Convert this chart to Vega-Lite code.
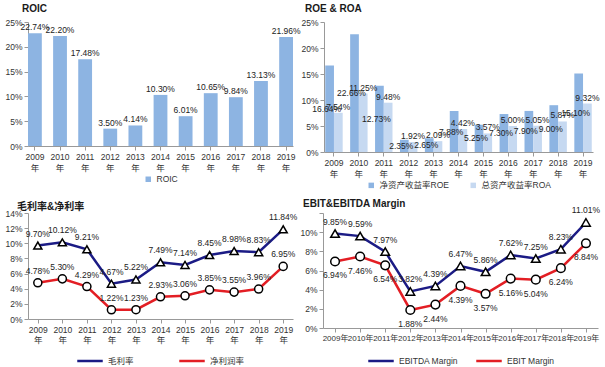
{
  "$schema": "https://vega.github.io/schema/vega-lite/v6.json",
  "background": "white",
  "padding": {"left": 4, "top": 4, "right": 0, "bottom": 0},
  "config": {
    "font": "Liberation Sans, Noto Sans CJK SC",
    "view": {"stroke": null},
    "axis": {"grid": false, "domainColor": "#999999", "tickColor": "#999999", "labelColor": "#333333", "labelFontSize": 8.5, "title": null, "tickSize": 4, "labelPadding": 2},
    "legend": {"orient": "bottom", "direction": "horizontal", "labelFontSize": 8.5, "labelColor": "#333333", "title": null, "padding": 0, "offset": 3, "layout": {"bottom": {"anchor": "middle"}}},
    "title": {"anchor": "start", "fontSize": 10, "fontWeight": "bold", "color": "#1a1a1a", "font": "Liberation Sans, Noto Sans CJK SC"},
    "text": {"fontSize": 8.5, "color": "#222222"}
  },
  "datasets": {
    "roic": [
      {"year": "2009", "v": 0.2274}, {"year": "2010", "v": 0.2220}, {"year": "2011", "v": 0.1748},
      {"year": "2012", "v": 0.0350}, {"year": "2013", "v": 0.0414}, {"year": "2014", "v": 0.1030},
      {"year": "2015", "v": 0.0601}, {"year": "2016", "v": 0.1065}, {"year": "2017", "v": 0.0984},
      {"year": "2018", "v": 0.1313}, {"year": "2019", "v": 0.2196}
    ],
    "roe": [
      {"year": "2009", "series": "净资产收益率ROE", "v": 0.1664}, {"year": "2009", "series": "总资产收益率ROA", "v": 0.0754},
      {"year": "2010", "series": "净资产收益率ROE", "v": 0.2266}, {"year": "2010", "series": "总资产收益率ROA", "v": 0.1125},
      {"year": "2011", "series": "净资产收益率ROE", "v": 0.1273}, {"year": "2011", "series": "总资产收益率ROA", "v": 0.0948},
      {"year": "2012", "series": "净资产收益率ROE", "v": 0.0235}, {"year": "2012", "series": "总资产收益率ROA", "v": 0.0192},
      {"year": "2013", "series": "净资产收益率ROE", "v": 0.0265}, {"year": "2013", "series": "总资产收益率ROA", "v": 0.0209},
      {"year": "2014", "series": "净资产收益率ROE", "v": 0.0788}, {"year": "2014", "series": "总资产收益率ROA", "v": 0.0442},
      {"year": "2015", "series": "净资产收益率ROE", "v": 0.0525}, {"year": "2015", "series": "总资产收益率ROA", "v": 0.0357},
      {"year": "2016", "series": "净资产收益率ROE", "v": 0.0730}, {"year": "2016", "series": "总资产收益率ROA", "v": 0.0500},
      {"year": "2017", "series": "净资产收益率ROE", "v": 0.0790}, {"year": "2017", "series": "总资产收益率ROA", "v": 0.0505},
      {"year": "2018", "series": "净资产收益率ROE", "v": 0.0900}, {"year": "2018", "series": "总资产收益率ROA", "v": 0.0587},
      {"year": "2019", "series": "净资产收益率ROE", "v": 0.1510}, {"year": "2019", "series": "总资产收益率ROA", "v": 0.0932}
    ],
    "margin": [
      {"year": "2009", "series": "毛利率", "v": 0.0970}, {"year": "2009", "series": "净利润率", "v": 0.0478},
      {"year": "2010", "series": "毛利率", "v": 0.1012}, {"year": "2010", "series": "净利润率", "v": 0.0530},
      {"year": "2011", "series": "毛利率", "v": 0.0921}, {"year": "2011", "series": "净利润率", "v": 0.0429},
      {"year": "2012", "series": "毛利率", "v": 0.0467}, {"year": "2012", "series": "净利润率", "v": 0.0122},
      {"year": "2013", "series": "毛利率", "v": 0.0522}, {"year": "2013", "series": "净利润率", "v": 0.0123},
      {"year": "2014", "series": "毛利率", "v": 0.0749}, {"year": "2014", "series": "净利润率", "v": 0.0293},
      {"year": "2015", "series": "毛利率", "v": 0.0714}, {"year": "2015", "series": "净利润率", "v": 0.0306},
      {"year": "2016", "series": "毛利率", "v": 0.0845}, {"year": "2016", "series": "净利润率", "v": 0.0385},
      {"year": "2017", "series": "毛利率", "v": 0.0898}, {"year": "2017", "series": "净利润率", "v": 0.0355},
      {"year": "2018", "series": "毛利率", "v": 0.0883}, {"year": "2018", "series": "净利润率", "v": 0.0396},
      {"year": "2019", "series": "毛利率", "v": 0.1184}, {"year": "2019", "series": "净利润率", "v": 0.0695}
    ],
    "ebit": [
      {"year": "2009", "series": "EBITDA Margin", "v": 0.0985}, {"year": "2009", "series": "EBIT Margin", "v": 0.0694},
      {"year": "2010", "series": "EBITDA Margin", "v": 0.0959}, {"year": "2010", "series": "EBIT Margin", "v": 0.0746},
      {"year": "2011", "series": "EBITDA Margin", "v": 0.0797}, {"year": "2011", "series": "EBIT Margin", "v": 0.0654},
      {"year": "2012", "series": "EBITDA Margin", "v": 0.0382}, {"year": "2012", "series": "EBIT Margin", "v": 0.0188},
      {"year": "2013", "series": "EBITDA Margin", "v": 0.0439}, {"year": "2013", "series": "EBIT Margin", "v": 0.0244},
      {"year": "2014", "series": "EBITDA Margin", "v": 0.0647}, {"year": "2014", "series": "EBIT Margin", "v": 0.0439},
      {"year": "2015", "series": "EBITDA Margin", "v": 0.0586}, {"year": "2015", "series": "EBIT Margin", "v": 0.0357},
      {"year": "2016", "series": "EBITDA Margin", "v": 0.0762}, {"year": "2016", "series": "EBIT Margin", "v": 0.0516},
      {"year": "2017", "series": "EBITDA Margin", "v": 0.0725}, {"year": "2017", "series": "EBIT Margin", "v": 0.0504},
      {"year": "2018", "series": "EBITDA Margin", "v": 0.0823}, {"year": "2018", "series": "EBIT Margin", "v": 0.0624},
      {"year": "2019", "series": "EBITDA Margin", "v": 0.1101}, {"year": "2019", "series": "EBIT Margin", "v": 0.0884}
    ]
  },
  "spacing": 9,
  "align": "none",
  "resolve": {"scale": {"color": "independent", "shape": "independent"}, "legend": {"color": "independent", "shape": "independent"}},
  "vconcat": [
    {
      "spacing": 31,
      "align": "none",
      "bounds": "flush",
      "resolve": {"scale": {"color": "independent", "shape": "independent"}, "legend": {"color": "independent", "shape": "independent"}},
      "hconcat": [
        {
          "width": 265, "height": 124,
          "title": {"text": "ROIC", "offset": 4, "dx": 17},
          "data": {"name": "roic"},
          "encoding": {
            "x": {"field": "year", "type": "nominal", "scale": {"paddingInner": 0.45, "paddingOuter": 0},
                  "axis": {"labelAngle": 0, "labelExpr": "[datum.label, '年']", "labelLineHeight": 11}},
            "y": {"field": "v", "type": "quantitative", "scale": {"domain": [0, 0.25]}, "axis": {"format": ".0%", "values": [0, 0.05, 0.1, 0.15, 0.2, 0.25]}}
          },
          "layer": [
            {"mark": {"type": "bar"}, "encoding": {"color": {"datum": "ROIC", "type": "nominal", "scale": {"domain": ["ROIC"], "range": ["#8DB4E2"]}, "legend": {"symbolType": "square", "symbolSize": 30}}}},
            {"mark": {"type": "text", "dy": -6}, "encoding": {"text": {"field": "v", "type": "quantitative", "format": ".2%"}}}
          ]
        },
        {
          "width": 269, "height": 130,
          "title": {"text": "ROE & ROA", "offset": 4, "dx": 4},
          "data": {"name": "roe"},
          "encoding": {
            "x": {"field": "year", "type": "nominal", "scale": {"paddingInner": 0.3, "paddingOuter": 0.05},
                  "axis": {"labelAngle": 0, "labelExpr": "[datum.label, '年']", "labelLineHeight": 11}},
            "xOffset": {"field": "series", "type": "nominal", "scale": {"domain": ["净资产收益率ROE", "总资产收益率ROA"]}}
          },
          "resolve": {"scale": {"y": "independent"}},
          "layer": [
            {"mark": {"type": "bar"},
             "encoding": {
               "y": {"field": "v", "type": "quantitative", "scale": {"domain": [0, 0.25]}, "axis": {"format": ".0%", "values": [0, 0.05, 0.1, 0.15, 0.2, 0.25]}},
               "color": {"field": "series", "type": "nominal", "scale": {"domain": ["净资产收益率ROE", "总资产收益率ROA"], "range": ["#8DB4E2", "#C6D9F1"]}, "legend": {"symbolType": "square", "symbolSize": 30, "columnPadding": 20}}
             }},
            {"transform": [{"filter": "datum.series == '总资产收益率ROA'"}],
             "mark": {"type": "text", "dy": -6},
             "encoding": {
               "y": {"field": "v", "type": "quantitative", "scale": {"domain": [0, 0.25]}, "axis": null},
               "text": {"field": "v", "type": "quantitative", "format": ".2%"}
             }},
            {"transform": [{"filter": "datum.series == '净资产收益率ROE'"}],
             "mark": {"type": "text", "baseline": "middle", "dx": -3},
             "encoding": {
               "y": {"field": "v", "type": "quantitative", "scale": {"domain": [0, 0.5]}, "axis": null},
               "text": {"field": "v", "type": "quantitative", "format": ".2%"}
             }}
          ]
        }
      ]
    },
    {
      "spacing": 30,
      "align": "none",
      "bounds": "flush",
      "resolve": {"scale": {"color": "independent", "shape": "independent"}, "legend": {"color": "independent", "shape": "independent"}},
      "hconcat": [
        {
          "width": 265, "height": 106,
          "title": {"text": "毛利率&净利率", "offset": -3, "dx": 12},
          "data": {"name": "margin"},
          "encoding": {
            "x": {"field": "year", "type": "ordinal", "scale": {"type": "point", "padding": 0.4},
                  "axis": {"labelAngle": 0, "labelExpr": "[datum.label, '年']", "labelLineHeight": 10}},
            "y": {"field": "v", "type": "quantitative", "scale": {"domain": [0, 0.14]}, "axis": {"format": ".0%", "values": [0, 0.02, 0.04, 0.06, 0.08, 0.1, 0.12, 0.14]}}
          },
          "layer": [
            {"mark": {"type": "line", "strokeWidth": 2.5},
             "encoding": {"color": {"field": "series", "type": "nominal", "scale": {"domain": ["毛利率", "净利润率"], "range": ["#1B1B85", "#E31E24"]},
                                    "legend": {"symbolType": "stroke", "symbolStrokeWidth": 2.5, "symbolSize": 650, "columnPadding": 40}}}},
            {"transform": [{"filter": "datum.series == '毛利率'"}],
             "mark": {"type": "point", "shape": "triangle-up", "filled": true, "fill": "white", "stroke": "black", "strokeWidth": 1.5, "size": 65, "opacity": 1},
             "encoding": {}},
            {"transform": [{"filter": "datum.series == '净利润率'"}],
             "mark": {"type": "point", "shape": "circle", "filled": true, "fill": "white", "stroke": "black", "strokeWidth": 1.5, "size": 65, "opacity": 1},
             "encoding": {}},
            {"mark": {"type": "text", "dy": -12},
             "encoding": {"text": {"field": "v", "type": "quantitative", "format": ".2%"}}}
          ]
        },
        {
          "width": 275, "height": 115,
          "title": {"text": "EBIT&EBITDA Margin", "offset": -3, "dx": 3},
          "data": {"name": "ebit"},
          "encoding": {
            "x": {"field": "year", "type": "ordinal", "scale": {"type": "point", "padding": 0.48},
                  "axis": {"labelAngle": 0, "labelExpr": "datum.label + '年'", "labelOverlap": false, "labelFontSize": 8}},
            "y": {"field": "v", "type": "quantitative", "scale": {"domain": [0, 0.12]}, "axis": {"format": ".0%", "values": [0, 0.02, 0.04, 0.06, 0.08, 0.1, 0.12], "labelExpr": "datum.value >= 0.12 ? '' : datum.label"}}
          },
          "layer": [
            {"mark": {"type": "line", "strokeWidth": 2.5},
             "encoding": {"color": {"field": "series", "type": "nominal", "scale": {"domain": ["EBITDA Margin", "EBIT Margin"], "range": ["#1B1B85", "#E31E24"]},
                                    "legend": {"symbolType": "stroke", "symbolStrokeWidth": 2.5, "symbolSize": 650, "columnPadding": 12, "offset": 5}}}},
            {"transform": [{"filter": "datum.series == 'EBITDA Margin'"}],
             "mark": {"type": "point", "shape": "triangle-up", "filled": true, "fill": "white", "stroke": "black", "strokeWidth": 1.5, "size": 75, "opacity": 1},
             "encoding": {}},
            {"transform": [{"filter": "datum.series == 'EBIT Margin'"}],
             "mark": {"type": "point", "shape": "circle", "filled": true, "fill": "white", "stroke": "black", "strokeWidth": 1.5, "size": 75, "opacity": 1},
             "encoding": {}},
            {"transform": [{"filter": "datum.series == 'EBITDA Margin'"}],
             "mark": {"type": "text", "dy": -12},
             "encoding": {"text": {"field": "v", "type": "quantitative", "format": ".2%"}}},
            {"transform": [{"filter": "datum.series == 'EBIT Margin'"}],
             "mark": {"type": "text", "dy": 14},
             "encoding": {"text": {"field": "v", "type": "quantitative", "format": ".2%"}}}
          ]
        }
      ]
    }
  ]
}
